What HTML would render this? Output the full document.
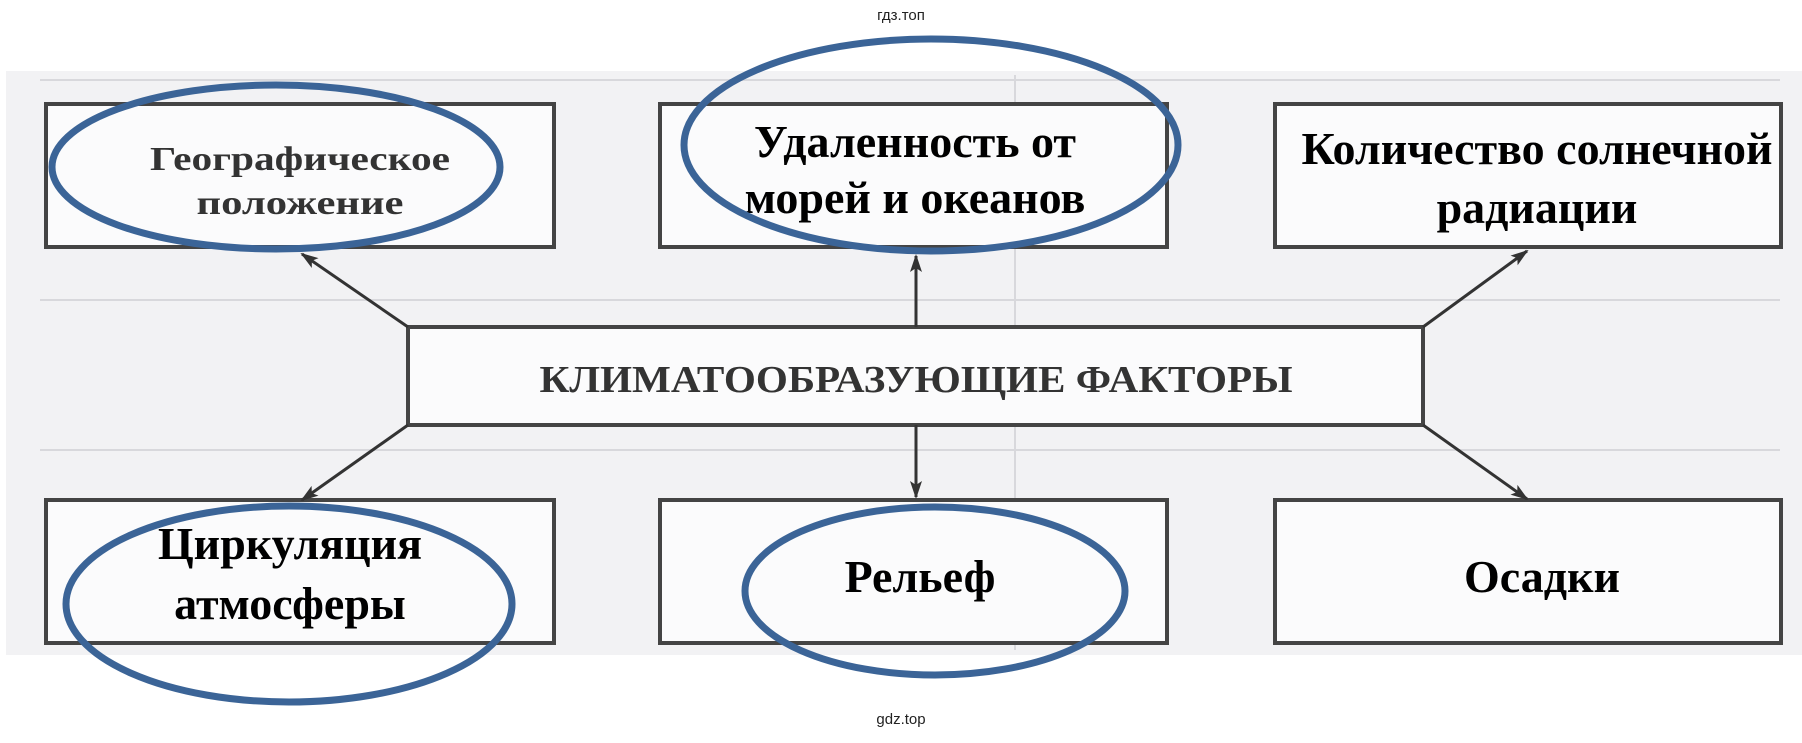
<!DOCTYPE html>
<html><head><meta charset="utf-8"><style>
html,body{margin:0;padding:0;background:#fff;}
body{width:1802px;height:738px;overflow:hidden;}
</style></head><body>
<svg width="1802" height="738" viewBox="0 0 1802 738" xmlns="http://www.w3.org/2000/svg">
<defs>
<marker id="ah" markerWidth="18" markerHeight="14" refX="16" refY="7" orient="auto" markerUnits="userSpaceOnUse">
<path d="M0,1 L18,7 L0,13 L4,7 z" fill="#333"/>
</marker>
</defs>
<text x="901" y="20" font-family="Liberation Sans, sans-serif" font-size="15" text-anchor="middle" fill="#222">гдз.топ</text>
<rect x="6" y="71" width="1796" height="584" fill="#f2f2f4"/>
<g fill="none" stroke="#d8d8dc" stroke-width="2">
<line x1="40" y1="80" x2="1780" y2="80"/>
<line x1="40" y1="300" x2="1780" y2="300"/>
<line x1="40" y1="450" x2="1780" y2="450"/>
<line x1="1015" y1="75" x2="1015" y2="650"/>
</g>
<g fill="#fbfbfc" stroke="#444" stroke-width="4">
<rect x="46" y="104" width="508" height="143"/>
<rect x="660" y="104" width="507" height="143"/>
<rect x="1275" y="104" width="506" height="143"/>
<rect x="408" y="327" width="1015" height="98"/>
<rect x="46" y="500" width="508" height="143"/>
<rect x="660" y="500" width="507" height="143"/>
<rect x="1275" y="500" width="506" height="143"/>
</g>
<g stroke="#333" stroke-width="3" fill="none" marker-end="url(#ah)">
<line x1="408" y1="327" x2="302" y2="254"/>
<line x1="916" y1="327" x2="916" y2="256"/>
<line x1="1423" y1="327" x2="1527" y2="251"/>
<line x1="408" y1="425" x2="302" y2="500"/>
<line x1="916" y1="425" x2="916" y2="497"/>
<line x1="1423" y1="425" x2="1527" y2="499"/>
</g>
<g font-family="Liberation Serif, serif" font-weight="bold" text-anchor="middle">
<text x="300" y="170" font-size="34" fill="#333" textLength="300" lengthAdjust="spacingAndGlyphs">Географическое</text>
<text x="300" y="214" font-size="34" fill="#333" textLength="207" lengthAdjust="spacingAndGlyphs">положение</text>
<text x="915" y="157" font-size="46" fill="#000">Удаленность от</text>
<text x="915" y="213" font-size="46" fill="#000">морей и океанов</text>
<text x="1537" y="164" font-size="46" fill="#000">Количество солнечной</text>
<text x="1537" y="223" font-size="46" fill="#000">радиации</text>
<text x="916" y="392" font-size="38" fill="#333" textLength="753" lengthAdjust="spacingAndGlyphs">КЛИМАТООБРАЗУЮЩИЕ ФАКТОРЫ</text>
<text x="290" y="559" font-size="46" fill="#000">Циркуляция</text>
<text x="290" y="619" font-size="46" fill="#000">атмосферы</text>
<text x="920" y="592" font-size="46" fill="#000">Рельеф</text>
<text x="1542" y="592" font-size="46" fill="#000">Осадки</text>
</g>
<g fill="none" stroke="#3b6497" stroke-width="7">
<ellipse cx="276" cy="167" rx="224" ry="82"/>
<ellipse cx="931" cy="145" rx="247" ry="106"/>
<ellipse cx="289" cy="604" rx="223" ry="98"/>
<ellipse cx="935" cy="591" rx="190" ry="84"/>
</g>
<text x="901" y="724" font-family="Liberation Sans, sans-serif" font-size="15" text-anchor="middle" fill="#222">gdz.top</text>
</svg>
</body></html>
